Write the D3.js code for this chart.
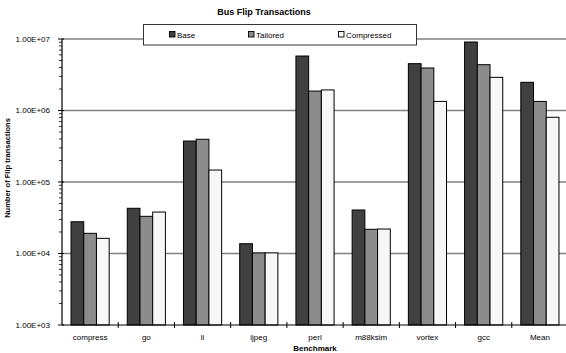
<!DOCTYPE html>
<html>
<head>
<meta charset="utf-8">
<script src="https://cdn.jsdelivr.net/npm/d3@7"></script>
<style>
  html, body { margin: 0; padding: 0; background: #fff; }
  svg { display: block; font-family: "Liberation Sans", Arial, sans-serif; }
</style>
</head>
<body>
<svg id="chart" width="566" height="353"></svg>
<script>
// Benchmarks and flip-transaction counts per encoding scheme
const benchmarks = ["compress", "go", "li", "ijpeg", "perl", "m88ksim", "vortex", "gcc", "Mean"];
const seriesNames = ["Base", "Tailored", "Compressed"];
const base       = [27800, 42900, 374000, 13700, 5780000, 40600, 4520000, 9080000, 2480000];
const tailored   = [19150, 33100, 396000, 10200, 1870000, 21800, 3930000, 4370000, 1340000];
const compressed = [16300, 38000, 147000, 10200, 1940000, 22000, 1340000, 2910000, 804000];
const yTicks = [1e3, 1e4, 1e5, 1e6, 1e7];
const yTickLabels = ["1.00E+03", "1.00E+04", "1.00E+05", "1.00E+06", "1.00E+07"];

const seriesValues = [base, tailored, compressed];
const fills = ["#404040", "#8c8c8c", "#f7f7f7"];

const svg = d3.select("#chart");
const m = { left: 62, right: 568, top: 39, bottom: 325 };

const x = d3.scaleBand().domain(benchmarks).range([m.left, m.right]).paddingInner(0).paddingOuter(0);
const inner = d3.scaleBand().domain(seriesNames).range([0, x.bandwidth()]).paddingInner(0).paddingOuter(0.71);
const y = d3.scaleLog().domain([1e3, 1e7]).range([m.bottom, m.top]);

// horizontal gridlines at each decade
svg.append("g").selectAll("line")
  .data(yTicks.slice(1))
  .join("line")
  .attr("x1", m.left).attr("x2", m.right)
  .attr("y1", d => y(d)).attr("y2", d => y(d))
  .attr("stroke", "#808080").attr("stroke-width", 1.5);

// bars
const groups = svg.append("g").selectAll("g")
  .data(benchmarks)
  .join("g")
  .attr("transform", d => `translate(${x(d)},0)`);

groups.selectAll("rect")
  .data((d, i) => seriesNames.map((s, j) => ({ s, j, v: seriesValues[j][i] })))
  .join("rect")
  .attr("x", d => inner(d.s))
  .attr("width", inner.bandwidth())
  .attr("y", d => y(d.v))
  .attr("height", d => m.bottom - y(d.v))
  .attr("fill", d => fills[d.j])
  .attr("stroke", "#000")
  .attr("stroke-width", 1);

// y axis with log minor ticks
const minorTicks = y.ticks().filter(t => !yTicks.includes(t));
const yAxisG = svg.append("g").attr("transform", `translate(${m.left},0)`);
yAxisG.append("line").attr("x1", 0).attr("x2", 0).attr("y1", m.top).attr("y2", m.bottom)
  .attr("stroke", "#000").attr("stroke-width", 1.2);
yAxisG.selectAll("line.minor").data(minorTicks).join("line").attr("class", "minor")
  .attr("x1", -3).attr("x2", 0).attr("y1", d => y(d)).attr("y2", d => y(d))
  .attr("stroke", "#000").attr("stroke-width", 0.8);
yAxisG.selectAll("line.major").data(yTicks).join("line").attr("class", "major")
  .attr("x1", -4).attr("x2", 2).attr("y1", d => y(d)).attr("y2", d => y(d))
  .attr("stroke", "#000").attr("stroke-width", 1);
yAxisG.selectAll("text").data(yTicks).join("text")
  .attr("x", -12).attr("y", d => y(d)).attr("dy", "0.35em")
  .attr("text-anchor", "end").attr("font-size", 8).attr("fill", "#000")
  .text((d, i) => yTickLabels[i]);

// x axis
const xAxisG = svg.append("g");
xAxisG.append("line").attr("x1", m.left).attr("x2", m.right).attr("y1", m.bottom).attr("y2", m.bottom)
  .attr("stroke", "#000").attr("stroke-width", 1.2);
const boundaries = benchmarks.slice(1).map(b => x(b));
xAxisG.selectAll("line.tick").data(boundaries).join("line").attr("class", "tick")
  .attr("x1", d => d).attr("x2", d => d).attr("y1", m.bottom - 3).attr("y2", m.bottom + 3)
  .attr("stroke", "#000").attr("stroke-width", 1);
xAxisG.selectAll("text").data(benchmarks).join("text")
  .attr("x", d => x(d) + x.bandwidth() / 2).attr("y", 340)
  .attr("text-anchor", "middle").attr("font-size", 8).attr("fill", "#000")
  .text(d => d);

// axis titles
svg.append("text").attr("x", (m.left + m.right) / 2).attr("y", 351)
  .attr("text-anchor", "middle").attr("font-size", 8).attr("font-weight", "bold")
  .text("Benchmark");
svg.append("text")
  .attr("transform", `translate(10,${(m.top + m.bottom) / 2 - 14}) rotate(-90)`)
  .attr("text-anchor", "middle").attr("font-size", 7.5).attr("font-weight", "bold")
  .text("Number of Flip transactions");

// chart title
svg.append("text").attr("x", 264).attr("y", 15)
  .attr("text-anchor", "middle").attr("font-size", 9).attr("font-weight", "bold")
  .text("Bus Flip Transactions");

// legend
const legend = svg.append("g");
legend.append("rect").attr("x", 143.5).attr("y", 24.5).attr("width", 273).attr("height", 20.5)
  .attr("fill", "#fff").attr("stroke", "#333").attr("stroke-width", 1);
const legendX = [170, 249, 339];
const items = legend.selectAll("g.item").data(seriesNames).join("g").attr("class", "item")
  .attr("transform", (d, i) => `translate(${legendX[i]},35)`);
items.append("rect").attr("x", -0.5).attr("y", -3.5).attr("width", 5.5).attr("height", 5.5)
  .attr("fill", (d, i) => fills[i]).attr("stroke", "#000").attr("stroke-width", 0.9);
items.append("text").attr("x", 7).attr("y", 0).attr("dy", "0.35em")
  .attr("font-size", 8).attr("fill", "#000").text(d => d);
</script>
</body>
</html>
